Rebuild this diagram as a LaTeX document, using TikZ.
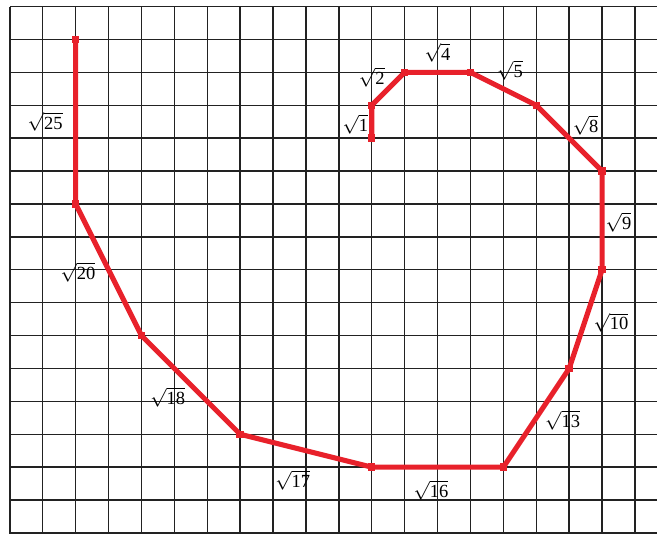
\documentclass[tikz,border=0pt]{standalone}
\usepackage{fontspec}
\setmainfont{Liberation Serif}
\usepackage{xcolor}
\definecolor{spiralRed}{HTML}{E8212B}
\definecolor{gridInk}{HTML}{222222}

\begin{document}
\begin{tikzpicture}[x=0.5cm,y=0.5cm,
  gridline/.style={gridInk,line width=0.6pt},
  spiral/.style={spiralRed,line width=2.2pt,line join=round},
  knot/.style={fill=spiralRed,inner sep=0pt,minimum size=3.2pt},
  root/.style={inner sep=0pt,font=\footnotesize}]
  \useasboundingbox (-0.3,-0.03) rectangle (19.67,16.2);
  % grid
  \foreach \r in {0,...,16} \draw[gridline] (0,\r) -- (19.67,\r);
  \foreach \c in {0,...,19} \draw[gridline] (\c,-0.05) -- (\c,16);
  % spiral corners
  \coordinate (p1) at (11,12);
  \coordinate (p2) at (11,13);
  \coordinate (p3) at (12,14);
  \coordinate (p4) at (14,14);
  \coordinate (p5) at (16,13);
  \coordinate (p6) at (18,11);
  \coordinate (p7) at (18,8);
  \coordinate (p8) at (17,5);
  \coordinate (p9) at (15,2);
  \coordinate (p10) at (11,2);
  \coordinate (p11) at (7,3);
  \coordinate (p12) at (4,6);
  \coordinate (p13) at (2,10);
  \coordinate (p14) at (2,15);
  \draw[spiral] (p1) -- (p2) -- (p3) -- (p4) -- (p5) -- (p6) -- (p7)
    -- (p8) -- (p9) -- (p10) -- (p11) -- (p12) -- (p13) -- (p14);
  \foreach \p in {p1,p2,p3,p4,p5,p6,p7,p8,p9,p10,p11,p12,p13,p14}
    \node[knot] (k\p) at (\p) {};
  % side lengths
  \node[root] (r1) at (10.5,12.43) {$\sqrt{\mbox{1}}$};
  \node[root] (r2) at (11.0,13.85) {$\sqrt{\mbox{2}}$};
  \node[root] (r4) at (13.0,14.6) {$\sqrt{\mbox{4}}$};
  \node[root] (r5) at (15.2,14.07) {$\sqrt{\mbox{5}}$};
  \node[root] (r8) at (17.5,12.4) {$\sqrt{\mbox{8}}$};
  \node[root] (r9) at (18.5,9.45) {$\sqrt{\mbox{9}}$};
  \node[root] (r10) at (18.27,6.4) {$\sqrt{\mbox{10}}$};
  \node[root] (r13) at (16.8,3.43) {$\sqrt{\mbox{13}}$};
  \node[root] (r16) at (12.8,1.3) {$\sqrt{\mbox{16}}$};
  \node[root] (r17) at (8.6,1.6) {$\sqrt{\mbox{17}}$};
  \node[root] (r18) at (4.8,4.13) {$\sqrt{\mbox{18}}$};
  \node[root] (r20) at (2.07,7.93) {$\sqrt{\mbox{20}}$};
  \node[root] (r25) at (1.07,12.5) {$\sqrt{\mbox{25}}$};
\end{tikzpicture}
\end{document}
